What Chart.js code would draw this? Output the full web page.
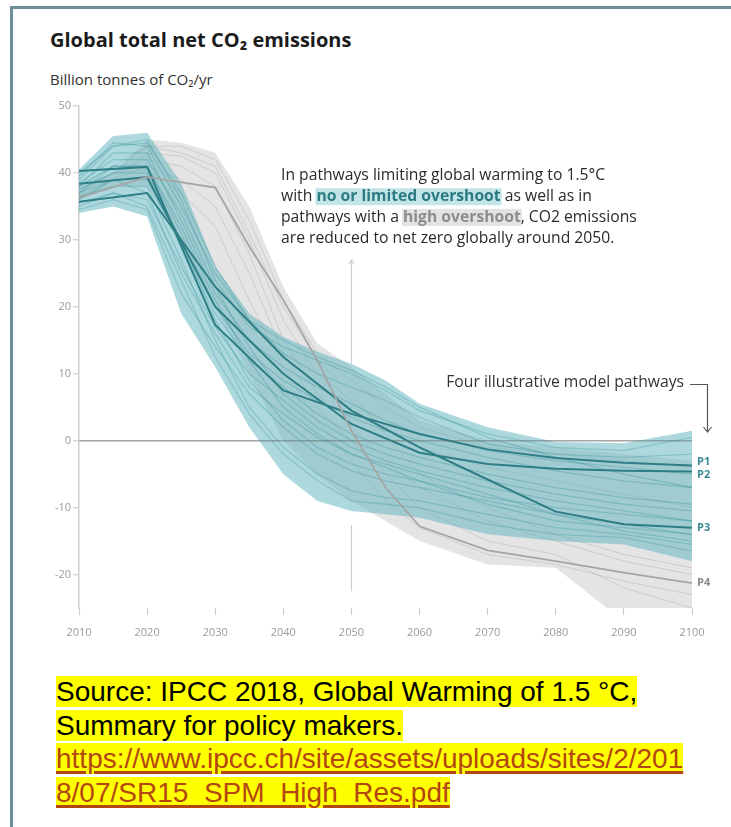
<!DOCTYPE html>
<html>
<head>
<meta charset="utf-8">
<script src="https://cdn.jsdelivr.net/npm/chart.js@4.4.0/dist/chart.umd.min.js"></script>
<style>
  body { margin: 0; background: #fff; width: 731px; height: 827px; overflow: hidden; position: relative; font-family: "Open Sans", sans-serif; }
  #frame { position: absolute; left: 10px; top: 6px; right: 0; bottom: 0; border-top: 3px solid #6f8f98; border-left: 3px solid #6f8f98; }
  #title { position: absolute; left: 50px; top: 26px; font-weight: bold; font-size: 20px; color: #1b1b1b; white-space: nowrap; }
  #unit { position: absolute; left: 50px; top: 69px; font-size: 15px; color: #333; white-space: nowrap; }
  #wrap { position: absolute; left: 0; top: 0; width: 731px; height: 660px; }
  #src { position: absolute; left: 56px; top: 675px; font-family: "Liberation Sans", Arial, sans-serif; font-size: 28px; line-height: 33.5px; color: #000; white-space: nowrap; }
  #src span { background: #ffff00; }
  #src .lnk { color: #b4460f; text-decoration: underline; text-decoration-thickness: 3px; text-underline-offset: 3px; }
</style>
</head>
<body>
<div id="frame"></div>
<div id="title">Global total net CO₂ emissions</div>
<div id="unit">Billion tonnes of CO₂/yr</div>
<div id="wrap"><canvas id="co2" width="731" height="660"></canvas></div>
<div id="src">
  <span>Source: IPCC 2018, Global Warming of 1.5 °C, </span><br>
  <span>Summary for policy makers. </span><br>
  <span class="lnk">https://www.ipcc.ch/site/assets/uploads/sites/2/201</span><br>
  <span class="lnk">8/07/SR15_SPM_High_Res.pdf</span>
</div>
<script>
// years and values (GtCO2/yr)
const years = [2010, 2015, 2020, 2025, 2030, 2035, 2040, 2045, 2050, 2055, 2060, 2070, 2080, 2090, 2100];
const xTicks = [2010, 2020, 2030, 2040, 2050, 2060, 2070, 2080, 2090, 2100];
const yTicks = [-20, -10, 0, 10, 20, 30, 40, 50];

// no or limited overshoot range
const tealUpper = [40.5, 45.5, 46, 38.5, 26, 19, 15.5, 13.3, 11.5, 9, 5.5, 2, -0.2, -0.4, 1.5];
const tealLower = [34, 35, 33.5, 19, 11, 2, -5, -9, -10.5, -11, -11.5, -14, -15, -15.5, -18];
// high overshoot range
const grayUpper = [38, 40, 45, 44.5, 43, 35, 23, 14.5, 11, 7, 3, 0, -1, -2, -3];
const grayLower = [36, 38, 38, 30, 20, 10, 0, -5, -9, -12, -15, -18.5, -19, -27, -27];

const tealRuns = [
  [39, 44, 45, 36, 24, 17, 14, 12, 10, 7.5, 4.5, 1, -1, -1.5, 0.5],
  [38, 43, 43, 33, 22, 15, 11, 8, 5.5, 3, 1, -1.5, -3, -4, -5],
  [37, 41, 41, 31, 20, 13, 9, 6, 3.5, 1.5, 0, -2.5, -4.5, -6, -7],
  [36, 39, 39, 29, 19, 12, 8, 4, 1, -1, -2.5, -5, -7, -8.5, -9.5],
  [35, 37, 36, 26, 17, 10, 6, 2, -1, -3, -4.5, -7, -9, -10.5, -12],
  [34.5, 36, 34.5, 22, 14, 7, 2, -2, -4.5, -6, -7, -9, -11, -12.5, -14],
  [37.5, 40, 40, 30, 18, 9, 3, -1, -3.5, -5, -6, -8.5, -10, -11, -12],
  [38.5, 42, 42, 34, 23, 14, 7, 3, 0, -2, -3.5, -6, -8, -9.5, -10.5],
  [36.5, 38, 38, 27, 15, 5, -1, -5, -7.5, -8.5, -9, -11, -13, -14, -15.5],
  [39.5, 44.5, 44, 35, 25, 18, 15, 12.5, 10.5, 8, 5, 0.5, -2.5, -5, -7],
  [35.5, 37, 35, 24, 12.5, 4, -2, -6, -9, -9.5, -10, -12.5, -14, -14.5, -16.5],
  [40, 44, 44.5, 37, 26, 18, 13, 10, 8, 6, 3.5, -0.5, -2, -2.5, -2],
  [37, 39, 37, 25, 16, 8, 4, 0.5, -2, -3.5, -5, -8, -11, -13.5, -15],
  [38, 41, 41, 32, 21, 12, 5, 1, -2, -4, -6, -9.5, -12, -13, -14]
];
const grayRuns = [
  [37, 40, 44, 44, 42, 33, 21, 13, 9, 5, 2, -1, -2, -3, -4],
  [36.5, 39, 43, 42.5, 40, 30, 18, 10, 6, 2, -1, -4, -6, -8, -10],
  [37, 40, 42, 41, 38, 28, 15, 7, 2, -3, -7, -12, -15, -18, -20],
  [36, 39, 41, 39, 35, 25, 13, 5, 0, -5, -10, -15, -17, -22, -25],
  [38, 41, 44, 43, 41, 31, 20, 12, 7, 1, -5, -10, -14, -17, -19],
  [37.5, 40, 40.5, 37, 32, 21, 11, 3, -3, -9, -13, -17, -18.5, -21, -23]
];

// four illustrative model pathways
const p1 = [40.3, null, 40.9, null, 17.3, null, 7.5, null, 4, null, 1, -1.3, -2.6, -3.3, -3.7];
const p2 = [38.4, null, 39.4, null, 20, null, 10, null, 2.5, null, -1.8, -3.5, -4.2, -4.5, -4.6];
const p3 = [35.7, null, 37, null, 23, null, 12.5, null, 4.5, null, -1, -5.8, -10.6, -12.5, -13];
const p4 = [36.3, null, 39.4, null, 37.8, 29, 21, 12, 1.5, -7, -12.8, -16.4, -18, -19.7, -21.3];
const pathNames = ['P1', 'P2', 'P3', 'P4'];
const markYear = 2050;

const pts = arr => years.map((yr, i) => ({ x: yr, y: arr[i] }));

const TEAL_DARK = '#2f7e86';
const flat = { pointRadius: 0, borderWidth: 0, fill: false, tension: 0 };

const datasets = [
  { ...flat, data: pts(grayUpper), fill: '+1', backgroundColor: 'rgba(120,120,120,0.2)', order: 10 },
  { ...flat, data: pts(grayLower), order: 10 },
  ...grayRuns.map(r => ({ ...flat, data: pts(r), borderWidth: 1, borderColor: 'rgba(160,160,160,0.35)', order: 9 })),
  { ...flat, data: pts(tealUpper), fill: '+1', backgroundColor: 'rgba(98,182,191,0.52)', order: 8 },
  { ...flat, data: pts(tealLower), order: 8 },
  ...tealRuns.map(r => ({ ...flat, data: pts(r), borderWidth: 1.3, borderColor: 'rgba(40,135,145,0.28)', order: 7 })),
  { ...flat, data: pts(p1), spanGaps: true, borderWidth: 2, borderColor: TEAL_DARK, order: 2 },
  { ...flat, data: pts(p2), spanGaps: true, borderWidth: 2, borderColor: TEAL_DARK, order: 2 },
  { ...flat, data: pts(p3), spanGaps: true, borderWidth: 2, borderColor: TEAL_DARK, order: 2 },
  { ...flat, data: pts(p4), spanGaps: true, borderWidth: 1.8, borderColor: '#a5a5a5', order: 1 }
];

const notes = {
  id: 'notes',
  beforeDatasetsDraw(chart) {
    // 2050 marker, hidden where the teal range covers it
    const { ctx, scales: { x, y } } = chart;
    const i = years.indexOf(markYear);
    const px = x.getPixelForValue(markYear);
    const top = y.getPixelForValue(27);
    ctx.save();
    ctx.strokeStyle = '#cfcfcf';
    ctx.lineWidth = 1.2;
    ctx.beginPath();
    ctx.moveTo(px, top);
    ctx.lineTo(px, y.getPixelForValue(tealUpper[i]));
    ctx.moveTo(px, y.getPixelForValue(tealLower[i]) + 14);
    ctx.lineTo(px, y.getPixelForValue(-22.5));
    ctx.moveTo(px - 2.5, top + 4);
    ctx.lineTo(px, top);
    ctx.lineTo(px + 2.5, top + 4);
    ctx.stroke();
    ctx.restore();
  },
  afterDatasetsDraw(chart) {
    // zero line shows through the ranges
    const { ctx, chartArea: a, scales: { y } } = chart;
    const py = y.getPixelForValue(0);
    ctx.save();
    ctx.strokeStyle = 'rgba(110,110,110,0.35)';
    ctx.lineWidth = 1.5;
    ctx.beginPath();
    ctx.moveTo(a.left, py);
    ctx.lineTo(a.right, py);
    ctx.stroke();
    ctx.restore();
  },
  afterDraw(chart) {
    const { ctx, scales: { x, y } } = chart;
    ctx.save();
    ctx.textBaseline = 'middle';

    // main annotation
    const reg = '15.7px "Open Sans"';
    const bold = 'bold 15.7px "Open Sans"';
    const lines = [
      [{ t: 'In pathways limiting global warming to 1.5°C' }],
      [{ t: 'with ' }, { t: 'no or limited overshoot', f: bold, c: '#2c7b82', bg: '#c4e5e8' }, { t: ' as well as in' }],
      [{ t: 'pathways with a ' }, { t: 'high overshoot', f: bold, c: '#8c8c8c', bg: '#e3e3e3' }, { t: ', CO2 emissions' }],
      [{ t: 'are reduced to net zero globally around 2050.' }]
    ];
    const x0 = 281;
    lines.forEach((runs, i) => {
      const yc = 176 + i * 20.7;
      let xx = x0;
      runs.forEach(r => {
        ctx.font = r.f || reg;
        const w = ctx.measureText(r.t).width;
        if (r.bg) {
          ctx.fillStyle = r.bg;
          ctx.fillRect(xx - 1, yc - 8.5, w + 2, 17);
        }
        ctx.fillStyle = r.c || '#2b2b2b';
        ctx.fillText(r.t, xx, yc);
        xx += w;
      });
    });

    // four illustrative pathways label + bracket arrow
    ctx.font = '15.7px "Open Sans"';
    ctx.fillStyle = '#333';
    ctx.textAlign = 'right';
    ctx.fillText('Four illustrative model pathways', 684, 383);
    ctx.strokeStyle = '#555';
    ctx.lineWidth = 1.2;
    ctx.beginPath();
    ctx.moveTo(690, 384.5);
    ctx.lineTo(707.5, 384.5);
    ctx.lineTo(707.5, 432);
    ctx.moveTo(703.5, 427);
    ctx.lineTo(707.5, 432);
    ctx.lineTo(711.5, 427);
    ctx.stroke();

    // P labels at the 2100 end of each pathway
    const ends = [p1, p2, p3, p4].map(s => s[s.length - 1]);
    const nudge = [-3.5, 3, 0, 0];
    ctx.textAlign = 'left';
    ctx.font = 'bold 11px "Open Sans"';
    ends.forEach((v, i) => {
      ctx.fillStyle = i < 3 ? '#3a8a92' : '#8a8a8a';
      ctx.fillText(pathNames[i], x.right + 5, y.getPixelForValue(v) + nudge[i]);
    });
    ctx.restore();
  }
};

new Chart(document.getElementById('co2'), {
  type: 'line',
  data: { datasets },
  options: {
    responsive: false,
    animation: false,
    events: [],
    layout: { padding: { left: 49, right: 39, top: 106, bottom: 12 } },
    plugins: { legend: { display: false }, tooltip: { enabled: false } },
    scales: {
      x: {
        type: 'linear', min: 2010, max: 2100,
        afterBuildTicks: s => { s.ticks = xTicks.map(v => ({ value: v })); },
        afterFit: s => { s.height = 40; },
        ticks: { color: '#9a9a9a', font: { size: 11, family: 'Open Sans' }, padding: 11, maxRotation: 0, callback: v => String(v) },
        grid: { drawOnChartArea: false, drawTicks: true, tickLength: 7, tickColor: '#cfcfcf', tickWidth: 1.2 },
        border: { display: false }
      },
      y: {
        min: -25, max: 50,
        afterBuildTicks: s => { s.ticks = yTicks.map(v => ({ value: v })); },
        afterFit: s => { s.width = 30; },
        ticks: { color: '#9a9a9a', font: { size: 11, family: 'Open Sans' }, padding: 2, callback: v => String(v) },
        grid: {
          color: c => (c.tick && c.tick.value === 0 ? '#c6c6c6' : 'rgba(0,0,0,0)'),
          lineWidth: 1.5, drawTicks: true, tickLength: 6, tickColor: '#cfcfcf', tickWidth: 1.2
        },
        border: { display: true, color: '#d0d0d0', width: 1.5 }
      }
    }
  },
  plugins: [notes]
});
</script>
</body>
</html>
